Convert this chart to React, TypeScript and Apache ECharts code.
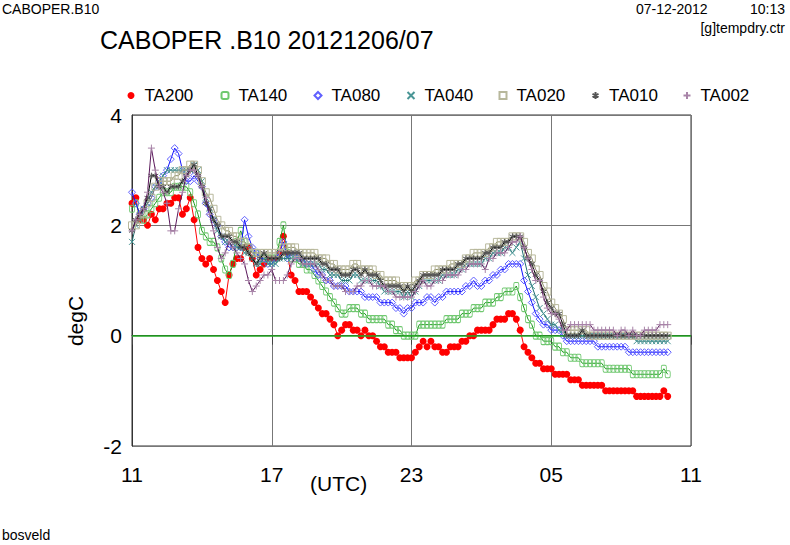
import React, { useEffect, useRef } from "react";
import * as echarts from "echarts";

const seriesNames = ["TA200", "TA140", "TA080", "TA040", "TA020", "TA010", "TA002"];
const xTickLabels = ["11", "17", "23", "05", "11"];
const yTicks = [-2, 0, 2, 4];

const TA200 = [
  2.4, 2.5, 2.1, 2.1, 2.0, 2.2, 2.1, 2.3, 2.3, 2.4, 2.4, 2.5, 2.5, 2.2, 2.3, 2.5, 2.1, 1.6, 1.4, 1.3, 1.4, 1.2, 1.0, 0.8, 0.6, 1.1,
  1.3, 1.4, 1.4, 1.6, 1.6, 1.4, 1.1, 1.2, 1.3, 1.4, 1.4, 1.4, 1.5, 1.8, 1.5, 1.1, 1.0, 0.8, 0.8, 0.8, 0.7, 0.6, 0.5, 0.4,
  0.4, 0.3, 0.2, 0.0, 0.1, 0.2, 0.2, 0.1, 0.1, 0.0, 0.1, 0.0, 0.0, -0.1, -0.2, -0.2, -0.3, -0.3, -0.3, -0.4, -0.4, -0.4, -0.4, -0.3, -0.2,
  -0.1, -0.2, -0.1, -0.2, -0.2, -0.3, -0.3, -0.2, -0.2, -0.2, -0.1, -0.1, 0.0, 0.0, 0.1, 0.1, 0.1, 0.1, 0.2, 0.3, 0.3, 0.3, 0.4, 0.4, 0.3, 0.1, -0.2,
  -0.3, -0.4, -0.5, -0.5, -0.6, -0.6, -0.6, -0.7, -0.7, -0.7, -0.7, -0.8, -0.8, -0.8, -0.9, -0.9, -0.9, -0.9, -0.9, -0.9,
  -1.0, -1.0, -1.0, -1.0, -1.0, -1.0, -1.0, -1.0, -1.1, -1.1, -1.1, -1.1, -1.1, -1.1, -1.1, -1.0, -1.1,
];

const TA140 = [
  2.3, 2.4, 2.2, 2.1, 2.2, 2.3, 2.4, 2.5, 2.6, 2.6, 2.6, 2.7, 2.7, 2.7, 2.7, 2.6, 2.4, 2.2, 1.9, 1.8, 1.7, 1.7, 1.6, 1.4, 1.2, 1.1,
  1.3, 1.7, 1.9, 1.7, 1.6, 1.5, 1.5, 1.4, 1.4, 1.4, 1.4, 1.4, 1.7, 2.0, 1.5, 1.4, 1.4, 1.3, 1.3, 1.2, 1.2, 1.1, 1.0, 0.9,
  0.8, 0.7, 0.6, 0.5, 0.4, 0.4, 0.5, 0.5, 0.5, 0.4, 0.4, 0.3, 0.3, 0.3, 0.3, 0.3, 0.2, 0.2, 0.1, 0.1, 0.0, 0.0, 0.0, 0.0, 0.2,
  0.2, 0.2, 0.2, 0.2, 0.2, 0.2, 0.3, 0.3, 0.3, 0.3, 0.4, 0.4, 0.4, 0.5, 0.5, 0.5, 0.6, 0.6, 0.6, 0.7, 0.7, 0.8, 0.8, 0.8, 0.9, 0.7, 0.5,
  0.3, 0.2, 0.0, 0.0, -0.1, -0.1, -0.1, -0.2, -0.2, -0.3, -0.3, -0.4, -0.4, -0.4, -0.5, -0.5, -0.5, -0.5, -0.5, -0.5,
  -0.6, -0.6, -0.6, -0.6, -0.6, -0.6, -0.6, -0.7, -0.7, -0.7, -0.7, -0.7, -0.7, -0.7, -0.7, -0.6, -0.7,
];

const TA080 = [
  2.6, 2.4, 2.2, 2.3, 2.4, 2.5, 2.7, 2.8, 2.9, 3.0, 3.2, 3.4, 3.3, 3.0, 2.8, 2.8, 2.9, 2.8, 2.7, 2.4, 2.2, 2.1, 2.0, 1.8, 1.7, 1.6,
  1.6, 1.6, 1.6, 2.1, 1.8, 1.6, 1.5, 1.4, 1.4, 1.3, 1.3, 1.4, 1.5, 1.7, 1.4, 1.5, 1.5, 1.4, 1.4, 1.3, 1.3, 1.2, 1.1, 1.1,
  1.0, 1.0, 0.9, 0.9, 0.9, 0.9, 0.8, 0.8, 0.8, 0.8, 0.7, 0.7, 0.7, 0.7, 0.6, 0.6, 0.6, 0.6, 0.5, 0.5, 0.4, 0.5, 0.5, 0.6, 0.6,
  0.6, 0.7, 0.7, 0.6, 0.7, 0.7, 0.8, 0.8, 0.8, 0.8, 0.8, 0.9, 0.9, 1.0, 0.9, 0.9, 1.0, 1.0, 1.1, 1.1, 1.2, 1.2, 1.3, 1.3, 1.3, 1.3, 1.0,
  0.8, 0.6, 0.4, 0.3, 0.2, 0.2, 0.1, 0.1, 0.1, 0.0, -0.1, -0.1, -0.1, -0.1, -0.1, -0.1, -0.1, -0.1, -0.2, -0.2,
  -0.2, -0.2, -0.2, -0.2, -0.2, -0.2, -0.3, -0.3, -0.3, -0.3, -0.3, -0.3, -0.3, -0.3, -0.3, -0.3, -0.3,
];

const TA040 = [
  1.7, 2.0, 2.1, 2.3, 2.4, 2.6, 2.7, 2.8, 2.9, 3.0, 3.0, 3.0, 3.0, 3.0, 3.0, 3.0, 3.1, 3.0, 2.8, 2.5, 2.3, 2.1, 1.9, 1.8, 1.7, 1.7,
  1.6, 1.6, 1.6, 1.5, 1.5, 1.4, 1.3, 1.3, 1.4, 1.3, 1.3, 1.3, 1.4, 1.4, 1.4, 1.4, 1.4, 1.4, 1.3, 1.3, 1.3, 1.3, 1.3, 1.2,
  1.2, 1.1, 1.1, 1.1, 1.0, 1.0, 1.0, 1.1, 1.1, 1.0, 1.0, 1.0, 1.0, 1.0, 0.9, 0.8, 0.8, 0.8, 0.8, 0.8, 0.7, 0.8, 0.7, 0.8, 0.9,
  1.0, 1.0, 1.0, 1.0, 1.0, 1.1, 1.1, 1.1, 1.1, 1.2, 1.2, 1.3, 1.3, 1.3, 1.3, 1.3, 1.4, 1.4, 1.5, 1.5, 1.5, 1.6, 1.6, 1.5, 1.6, 1.7, 1.4,
  1.1, 0.9, 0.7, 0.5, 0.4, 0.3, 0.2, 0.2, 0.1, 0.1, 0.0, 0.0, 0.0, 0.0, 0.0, 0.0, 0.0, 0.0, 0.0, 0.0,
  0.0, 0.0, 0.0, 0.0, 0.0, 0.0, 0.0, 0.0, -0.1, -0.1, -0.1, -0.1, -0.1, -0.1, -0.1, -0.1, -0.1,
];

const TA020 = [
  2.0, 2.0, 2.1, 2.2, 2.4, 2.5, 2.7, 2.8, 2.8, 2.8, 2.8, 2.9, 2.9, 3.0, 3.0, 3.1, 3.1, 3.0, 2.8, 2.6, 2.5, 2.3, 2.1, 2.0, 1.9, 1.9,
  1.8, 1.8, 1.7, 1.7, 1.6, 1.5, 1.5, 1.5, 1.5, 1.5, 1.5, 1.5, 1.5, 1.6, 1.6, 1.6, 1.6, 1.5, 1.5, 1.5, 1.5, 1.5, 1.4, 1.4,
  1.4, 1.3, 1.3, 1.2, 1.2, 1.2, 1.2, 1.3, 1.3, 1.2, 1.2, 1.2, 1.2, 1.1, 1.1, 1.0, 1.0, 1.0, 1.0, 0.9, 0.9, 0.9, 0.9, 1.0, 1.0,
  1.1, 1.1, 1.1, 1.2, 1.2, 1.2, 1.2, 1.3, 1.3, 1.3, 1.3, 1.4, 1.4, 1.5, 1.5, 1.5, 1.5, 1.6, 1.6, 1.7, 1.7, 1.7, 1.7, 1.8, 1.8, 1.8, 1.7,
  1.5, 1.4, 1.2, 1.1, 0.9, 0.8, 0.6, 0.5, 0.4, 0.3, 0.1, 0.1, 0.1, 0.1, 0.1, 0.1, 0.0, 0.0, 0.0, 0.0,
  0.0, 0.0, 0.0, 0.0, 0.0, 0.0, 0.0, 0.0, 0.0, 0.0, 0.0, 0.0, 0.0, 0.0, 0.0, 0.0, 0.0,
];

const TA010 = [
  1.9, 2.1, 2.2, 2.3, 2.5, 2.9, 2.9, 2.7, 2.7, 2.6, 2.7, 2.7, 2.7, 2.8, 2.9, 3.0, 3.1, 2.9, 2.7, 2.4, 2.3, 2.1, 2.0, 1.8, 1.8, 1.8,
  1.7, 1.7, 1.6, 1.6, 1.5, 1.4, 1.3, 1.4, 1.5, 1.4, 1.4, 1.4, 1.4, 1.5, 1.5, 1.5, 1.5, 1.5, 1.4, 1.4, 1.4, 1.4, 1.4, 1.3,
  1.3, 1.2, 1.2, 1.2, 1.1, 1.1, 1.1, 1.2, 1.2, 1.1, 1.2, 1.1, 1.1, 1.1, 1.0, 0.9, 0.9, 0.9, 0.9, 0.9, 0.8, 0.9, 0.8, 0.9, 1.0,
  1.1, 1.1, 1.1, 1.1, 1.1, 1.2, 1.2, 1.2, 1.2, 1.3, 1.3, 1.4, 1.4, 1.4, 1.4, 1.4, 1.5, 1.5, 1.6, 1.6, 1.6, 1.7, 1.7, 1.8, 1.8, 1.8, 1.6,
  1.4, 1.3, 1.1, 1.0, 0.8, 0.6, 0.5, 0.4, 0.4, 0.2, 0.0, 0.0, 0.0, 0.0, 0.1, 0.0, 0.0, 0.0, 0.0, 0.0,
  0.0, 0.0, 0.0, 0.0, 0.0, 0.0, 0.0, 0.0, 0.0, 0.0, 0.0, 0.0, 0.0, 0.0, 0.0, 0.0, 0.0,
];

const TA002 = [
  1.9, 2.1, 2.2, 2.3, 2.6, 3.4, 3.0, 2.7, 2.6, 2.4, 1.9, 1.9, 2.3, 2.6, 2.9, 3.0, 3.0, 2.9, 2.7, 2.5, 2.2, 1.9, 1.6, 1.4, 1.5, 1.7,
  1.6, 1.5, 1.4, 1.3, 1.0, 0.8, 0.9, 1.0, 1.1, 1.1, 1.2, 1.0, 1.0, 1.0, 1.1, 1.3, 1.4, 1.4, 1.3, 1.3, 1.3, 1.3, 1.2, 1.1,
  1.0, 1.0, 0.9, 0.9, 0.9, 0.8, 0.8, 0.8, 0.9, 0.9, 1.0, 1.0, 0.9, 0.9, 0.9, 0.9, 0.8, 0.8, 0.7, 0.7, 0.7, 0.7, 0.7, 0.8, 0.9,
  1.0, 0.9, 0.9, 1.0, 1.0, 1.0, 1.1, 1.1, 1.1, 1.1, 1.2, 1.2, 1.3, 1.3, 1.3, 1.3, 1.2, 1.4, 1.4, 1.5, 1.5, 1.5, 1.6, 1.7, 1.7, 1.8, 1.6,
  1.4, 1.2, 1.0, 1.0, 0.7, 0.5, 0.4, 0.4, 0.3, 0.1, 0.1, 0.2, 0.2, 0.2, 0.2, 0.2, 0.2, 0.1, 0.1, 0.1,
  0.1, 0.1, 0.1, 0.0, 0.1, 0.1, 0.0, 0.1, 0.0, 0.0, 0.1, 0.1, 0.1, 0.1, 0.2, 0.2, 0.2,
];

const seriesValues = [TA200, TA140, TA080, TA040, TA020, TA010, TA002];

const lineColors = ["#ff0000", "#1a9a1a", "#1010ff", "#1e6e6e", "#8c8c66", "#000000", "#5c1a5c"];
const markColors = ["#ff0000", "#70c870", "#6060ff", "#4a9696", "#b8b89c", "#555555", "#a884a8"];
const symbols = [
  "circle",
  "roundRect",
  "diamond",
  "path://M0,0L10,10M10,0L0,10",
  "rect",
  "path://M5,0L5,10M0.7,2.5L9.3,7.5M9.3,2.5L0.7,7.5",
  "path://M5,0L5,10M0,5L10,5",
];
const symbolSizes: any[] = [7, [5, 7], 7, 6, 7, 6, 7];
const legendCenters = [131, 224, 317, 410, 502, 595, 686];

const FONT = "'Liberation Sans', Arial, sans-serif";

export default function App() {
  const ref = useRef<HTMLDivElement>(null);
  useEffect(() => {
    if (!ref.current) return;
    const chart = echarts.init(ref.current, undefined, { renderer: "svg" });
    const hours = TA200.map((_, i) => i / 6);

    const series: any[] = seriesNames.map((name, k) => ({
      name,
      type: "line",
      data: seriesValues[k].map((v, i) => [hours[i], v]),
      symbol: symbols[k],
      symbolSize: symbolSizes[k],
      showSymbol: true,
      showAllSymbol: true,
      lineStyle: { color: lineColors[k], width: 1 },
      itemStyle:
        k === 0
          ? { color: markColors[k], borderWidth: 0 }
          : { color: "rgba(0,0,0,0)", borderColor: markColors[k], borderWidth: 1 },
      emphasis: { disabled: true },
      z: 2 + k,
      ...(k === 0
        ? {
            markLine: {
              silent: true,
              symbol: "none",
              label: { show: false },
              lineStyle: { color: "#22aa22", width: 1.5, type: "solid" },
              data: [{ yAxis: 0 }],
            },
          }
        : {}),
    }));

    const legends = seriesNames.map((name, k) => ({
      data: [{ name, icon: symbols[k] }],
      left: legendCenters[k] - 3.5,
      top: 87,
      padding: 0,
      itemWidth: 7,
      itemHeight: 7,
      selectedMode: false,
      textStyle: { fontSize: 17, fontFamily: FONT, color: "#000", padding: [4, 0, 0, 5] },
    }));

    chart.setOption({
      animation: false,
      backgroundColor: "#ffffff",
      legend: legends,
      grid: {
        left: 132,
        top: 115,
        right: 99,
        bottom: 99,
        show: true,
        borderColor: "#333",
        borderWidth: 1,
        backgroundColor: "transparent",
      },
      xAxis: {
        type: "value",
        min: 0,
        max: 24,
        interval: 6,
        axisLine: { show: true, lineStyle: { color: "#333", width: 1 } },
        axisTick: { show: true, length: 9, lineStyle: { color: "#444" } },
        splitLine: { show: true, lineStyle: { color: "#777", width: 1 } },
        axisLabel: {
          fontSize: 21,
          fontFamily: FONT,
          color: "#000",
          margin: 18,
          formatter: (v: number) => xTickLabels[Math.round(v / 6)] ?? "",
        },
      },
      yAxis: {
        type: "value",
        min: yTicks[0],
        max: yTicks[yTicks.length - 1],
        interval: 2,
        axisLine: { show: true, lineStyle: { color: "#333", width: 1 } },
        axisTick: { show: false },
        splitLine: { show: true, lineStyle: { color: "#777", width: 1 } },
        axisLabel: { fontSize: 21, fontFamily: FONT, color: "#000", margin: 10 },
      },
      graphic: [
        { type: "text", left: 2, top: 2, style: { text: "CABOPER.B10", fontSize: 14, fontFamily: FONT, fill: "#000" } },
        { type: "text", left: 636, top: 2, style: { text: "07-12-2012", fontSize: 14, fontFamily: FONT, fill: "#000" } },
        { type: "text", right: 5, top: 2, style: { text: "10:13", fontSize: 14, fontFamily: FONT, fill: "#000" } },
        { type: "text", right: 5, top: 21, style: { text: "[g]tempdry.ctr", fontSize: 14, fontFamily: FONT, fill: "#000" } },
        { type: "text", left: 100, top: 27, style: { text: "CABOPER .B10 20121206/07", fontSize: 25, fontFamily: FONT, fill: "#000" } },
        { type: "text", left: 310, top: 473, style: { text: "(UTC)", fontSize: 21, fontFamily: FONT, fill: "#000" } },
        {
          type: "text",
          x: 75,
          y: 321,
          rotation: Math.PI / 2,
          style: { text: "degC", fontSize: 21, fontFamily: FONT, fill: "#000", align: "center", verticalAlign: "middle" },
        },
        { type: "text", left: 2, top: 528, style: { text: "bosveld", fontSize: 14, fontFamily: FONT, fill: "#000" } },
      ],
      series,
    });
    return () => chart.dispose();
  }, []);
  return <div ref={ref} style={{ position: "fixed", left: 0, top: 0, width: 790, height: 545, background: "#fff" }} />;
}
